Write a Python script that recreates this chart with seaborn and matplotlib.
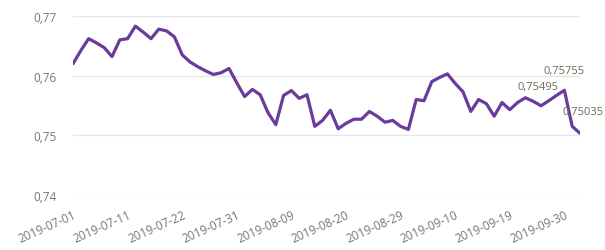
import numpy as np
import pandas as pd
import seaborn as sns
import matplotlib.pyplot as plt
from matplotlib.ticker import FuncFormatter

# trading days, US holidays excluded
holidays = ["2019-07-04", "2019-09-02"]
dates = pd.bdate_range("2019-07-01", "2019-10-02", freq="C", holidays=holidays)

valores = [
    0.7620, 0.7642, 0.7662, 0.7655, 0.7647, 0.7632, 0.7660, 0.7662, 0.7683, 0.7673,
    0.7662, 0.7678, 0.7675, 0.7665, 0.7635, 0.7623, 0.7615, 0.7608, 0.7602, 0.7605,
    0.7612, 0.7588, 0.7565, 0.7577, 0.7568, 0.7538, 0.7518, 0.7567, 0.7575, 0.7562,
    0.7568, 0.7515, 0.7525, 0.7542, 0.7511, 0.7520, 0.7527, 0.7527, 0.7540, 0.7532,
    0.7522, 0.7525, 0.7515, 0.7510, 0.7560, 0.7558, 0.7590, 0.7597, 0.7603, 0.7587,
    0.7573, 0.7540, 0.7560, 0.7553, 0.7532, 0.7555, 0.7543, 0.7555, 0.7563, 0.7557,
    0.75495, 0.7558, 0.7567, 0.75755, 0.7515, 0.75035,
]

rotulos_x = ["2019-07-01", "2019-07-11", "2019-07-22", "2019-07-31", "2019-08-09",
             "2019-08-20", "2019-08-29", "2019-09-10", "2019-09-19", "2019-09-30"]
rotulos_y = [0.74, 0.75, 0.76, 0.77]
destaques = ["2019-09-25", "2019-09-30", "2019-10-02"]

tabela = pd.DataFrame({"data": dates.strftime("%Y-%m-%d"), "valor": valores})
tabela["pos"] = np.arange(len(tabela))

sns.set_style("white")
plt.rcParams["font.family"] = ["Open Sans", "DejaVu Sans"]

fig, ax = plt.subplots(figsize=(6.05, 2.51), dpi=100)
fig.subplots_adjust(left=73/605, right=580/605, top=1-17/251, bottom=1-196/251)

sns.lineplot(data=tabela, x="pos", y="valor", color="#6a3a9c", linewidth=2.3, ax=ax)

pos_ticks = tabela.loc[tabela["data"].isin(rotulos_x), "pos"].tolist()
ax.set_xticks(pos_ticks)
ax.set_xticklabels(rotulos_x, rotation=24, ha="right", rotation_mode="anchor")
ax.set_yticks(rotulos_y)
ax.yaxis.set_major_formatter(FuncFormatter(lambda v, p: f"{v:.2f}".replace(".", ",")))
ax.set_xlim(0, len(tabela) - 1)
ax.set_ylim(0.74, 0.77)

ax.grid(axis="y", color="#e6e6e6", linewidth=1)
ax.set_axisbelow(True)
for s in ax.spines.values():
    s.set_visible(False)
ax.tick_params(axis="both", length=0, labelsize=8.5, colors="#757575")
ax.tick_params(axis="y", pad=12)
ax.tick_params(axis="x", pad=9)
ax.set_xlabel("")
ax.set_ylabel("")

offsets = [(-2, 14), (0, 14), (2, 16)]
for d, off in zip(destaques, offsets):
    linha = tabela[tabela["data"] == d].iloc[0]
    ax.annotate(f"{linha['valor']:.5f}".replace(".", ","), (linha["pos"], linha["valor"]),
                xytext=off, textcoords="offset points", ha="center", va="center",
                fontsize=8, color="#6b6b58", annotation_clip=False)

plt.savefig("out.png", dpi=100)
plt.close()
